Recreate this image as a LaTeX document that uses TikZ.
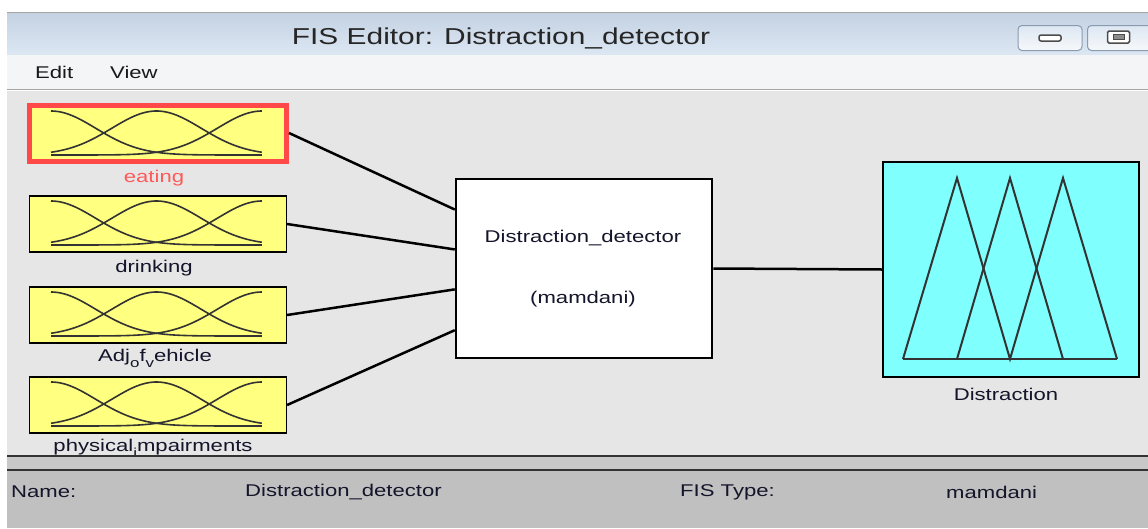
\documentclass[tikz,border=0pt]{standalone}
\usepackage{fontspec}
\setmainfont{Liberation Sans}
\usetikzlibrary{calc}
\newcommand{\W}[1]{\scalebox{1.3}[1]{#1}}
\newcommand{\subsc}[1]{\raisebox{-0.35em}{\fontsize{13}{13}\selectfont #1}}
\definecolor{bgmain}{HTML}{E6E6E6}
\definecolor{menubg}{HTML}{F4F5F7}
\definecolor{titletop}{HTML}{C4D2E2}
\definecolor{titlebot}{HTML}{DCE7F3}
\definecolor{mfyellow}{HTML}{FFFF80}
\definecolor{mfcyan}{HTML}{80FFFF}
\definecolor{selred}{HTML}{FF4848}
\definecolor{botgray}{HTML}{C0C0C0}
\definecolor{bandgray}{HTML}{C8C8C8}
\definecolor{txtdark}{HTML}{14142A}
\definecolor{btnborder}{HTML}{8A9AB0}
\tikzset{
  inbox/.style={draw=black, line width=1.2pt, fill=mfyellow, minimum width=257pt, minimum height=56pt, inner sep=0pt},
  outbox/.style={draw=black, line width=1.5pt, fill=mfcyan, minimum width=256pt, minimum height=215pt, inner sep=0pt},
  fisbox/.style={draw=black, line width=2.5pt, fill=white, minimum width=256pt, minimum height=179pt, inner sep=0pt},
  lbl/.style={font=\fontsize{17}{20}\selectfont, text=txtdark, inner sep=0pt},
  conn/.style={line width=2.5pt, black},
  mf/.style={line width=1.6pt, black!80},
  btn/.style={draw=btnborder, rounded corners=4pt, line width=1pt, top color=titlebot, bottom color=titletop!90!black!10}
}
\begin{document}
\begin{tikzpicture}[x=1pt,y=-1pt]
\useasboundingbox (0,0) rectangle (1148,528);
\fill[white] (0,0) rectangle (1148,528);
% title bar
\shade[top color=titletop, bottom color=titlebot] (7,13) rectangle (1148,55);
\draw[gray!70, line width=1pt] (7,12.5) -- (1148,12.5);
\node[font=\fontsize{23}{26}\selectfont, text=black!85, inner sep=0pt] (title) at (501,38) {\W{FIS Editor: Distraction\_detector}};
\node[btn, minimum width=64pt, minimum height=25pt, inner sep=0pt] (minbtn) at (1050,38) {};
\node[draw=black!70, line width=1.5pt, fill=white, rounded corners=2pt, minimum width=22pt, minimum height=6pt, inner sep=0pt] (minicon) at (minbtn.center) {};
\node[btn, minimum width=70pt, minimum height=25pt, inner sep=0pt, anchor=west] (maxbtn) at (1087,38) {};
\node[draw=black!70, line width=1.5pt, fill=white, rounded corners=1.5pt, minimum width=22pt, minimum height=12pt, inner sep=0pt] (maxicon) at (1118.5,37) {};
\node[draw=black!70, line width=1pt, fill=black!45, minimum width=11pt, minimum height=5pt, inner sep=0pt] (maxinner) at (maxicon.center) {};
% menu bar
\fill[menubg] (7,55) rectangle (1148,89);
\node[lbl, text=black!90, anchor=west] (edit) at (35,72) {\W{Edit}};
\node[lbl, text=black!90, anchor=west] (view) at (110,72) {\W{View}};
\draw[black!35, line width=1.2pt] (7,89.5) -- (1148,89.5);
% main area
\fill[bgmain] (7,90.5) rectangle (1148,455);
% inputs
\node[inbox, draw=selred, line width=5pt] (in1) at (158,133) {};
\node[inbox] (in2) at (158,224) {};
\node[inbox] (in3) at (158,315) {};
\node[inbox] (in4) at (158,405) {};
\foreach \t in {111,201,292,382}{
  \foreach \c in {0,0.5,1}{
    \draw[mf] plot[domain=0:1, samples=70, smooth] ({51+211*\x}, {\t+44-44*exp(-((\x-\c)*(\x-\c))/(2*0.2123*0.2123))});
  }
}
\node[lbl, text=selred!90] (l1) at (154,178) {\W{eating}};
\node[lbl] (l2) at (154,268) {\W{drinking}};
\node[lbl] (l3) at (155,358) {\W{Adj\subsc{o}f\subsc{v}ehicle}};
\node[lbl] (l4) at (153,448) {\W{physical\subsc{i}mpairments}};
% FIS box
\node[fisbox] (fis) at (584,268.5) {};
\node[lbl] (fisname) at (583,238) {\W{Distraction\_detector}};
\node[lbl] (fistype) at (583,299) {\W{(mamdani)}};
% output box
\node[outbox] (out) at (1011,269.5) {};
\draw[mf, line width=2pt, line join=miter] (903,359) -- (957,178) -- (1010,359) -- (1063,178) -- (1117,359);
\draw[mf, line width=2pt] (957,359) -- (1010,178) -- (1063,359);
\draw[mf, line width=2pt] (903,359) -- (1117,359);
\node[lbl] (outlbl) at (1006,394) {\W{Distraction}};
% connectors
\coordinate (p1) at ($(fis.north west)!0.175!(fis.south west)$);
\coordinate (p2) at ($(fis.north west)!0.395!(fis.south west)$);
\coordinate (p3) at ($(fis.north west)!0.615!(fis.south west)$);
\coordinate (p4) at ($(fis.north west)!0.84!(fis.south west)$);
\draw[conn] (in1.east) -- (p1);
\draw[conn] (in2.east) -- (p2);
\draw[conn] (in3.east) -- (p3);
\draw[conn] (in4.east) -- (p4);
\draw[conn] (fis.east) -- (out.west);
% bottom panel
\fill[bandgray] (7,455) rectangle (1148,469);
\fill[botgray] (7,469) rectangle (1148,528);
\draw[black!80, line width=2pt] (7,455.5) -- (1148,455.5);
\draw[black!80, line width=2pt] (7,470) -- (1148,470);
\node[lbl, anchor=west] (namek) at (11,492) {\W{Name:}};
\node[lbl, anchor=west] (namev) at (245,492) {\W{Distraction\_detector}};
\node[lbl, anchor=west] (typek) at (680,492) {\W{FIS Type:}};
\node[lbl, anchor=west] (typev) at (946,492) {\W{mamdani}};
\end{tikzpicture}
\end{document}
